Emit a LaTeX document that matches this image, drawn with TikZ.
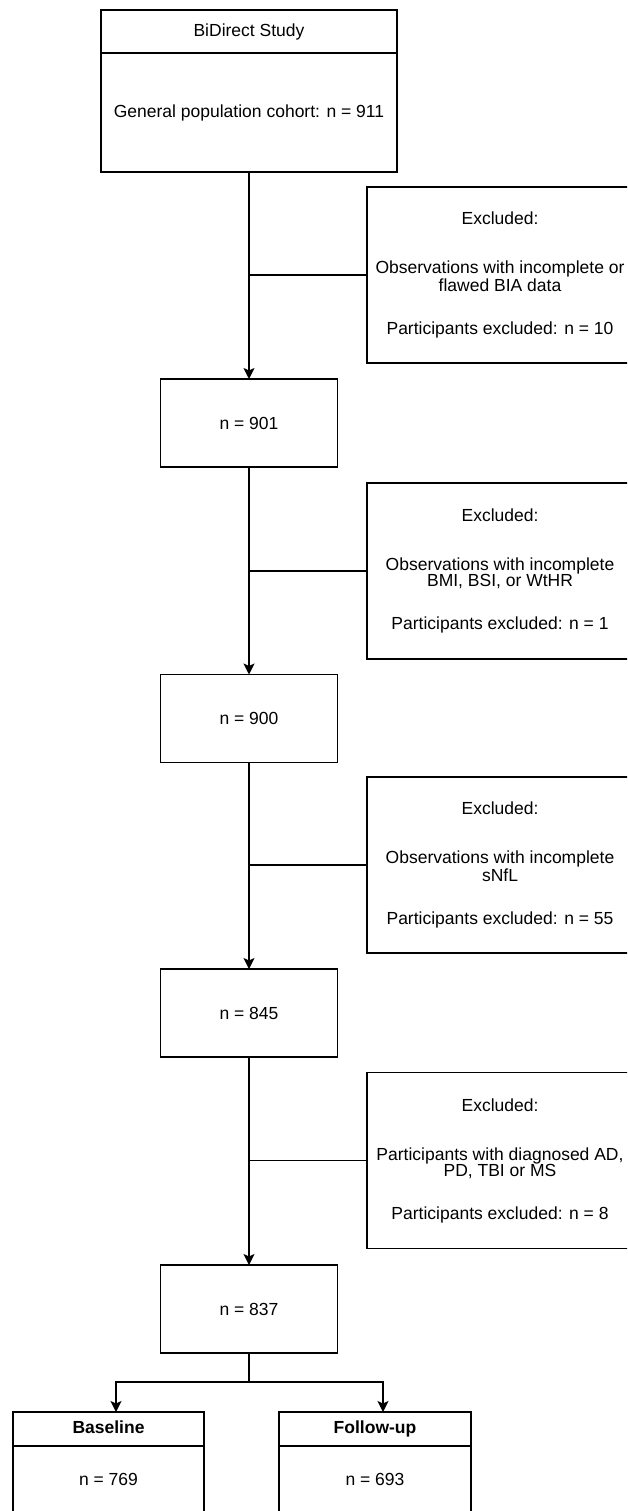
\documentclass[tikz,border=0pt]{standalone}
\usepackage{fontspec}
\setmainfont{Liberation Sans}
\usetikzlibrary{arrows.meta, positioning}

\begin{document}
\begin{tikzpicture}[x=1pt, y=-1pt, line width=1.6pt,
    box/.style={draw, rectangle, align=center, inner sep=0pt, outer sep=0pt,
        font=\fontsize{17.5}{16}\selectfont},
    countbox/.style={box, minimum width=177pt, minimum height=88pt},
    exclbox/.style={box, minimum width=266pt, minimum height=176pt},
    headbox/.style={box, minimum height=34pt, text height=12.6pt, text depth=3.7pt,
        font=\fontsize{17.5}{16}\selectfont\bfseries},
    flow/.style={-{Stealth[length=11pt, width=11pt, inset=2.5pt]}}]
    % Frame of the picture
    \useasboundingbox (0,0) rectangle (627,1511);
    \clip (0,0) rectangle (627,1511);

    % Study header and cohort
    \node[box, minimum width=296pt, minimum height=43pt] (study) at (249,31.5) {BiDirect Study};
    \node[box, minimum width=296pt, minimum height=119pt, below=0pt of study] (cohort) {General population cohort: n = 911};

    % Remaining counts
    \node[countbox] (n901) at (249,423) {n = 901};
    \node[countbox] (n900) at (249,718.5) {n = 900};
    \node[countbox] (n845) at (249,1013) {n = 845};
    \node[countbox] (n837) at (249,1309) {n = 837};

    % Exclusions
    \node[exclbox] (excl1) at (500,275) {Excluded:\\[33pt]Observations with incomplete or\\flawed BIA data\\[27pt]Participants excluded: n = 10};
    \node[exclbox] (excl2) at (500,571) {Excluded:\\[33pt]Observations with incomplete\\BMI, BSI, or WtHR\\[27pt]Participants excluded: n = 1};
    \node[exclbox] (excl3) at (500,865) {Excluded:\\[33pt]Observations with incomplete\\sNfL\\[27pt]Participants excluded: n = 55};
    \node[exclbox] (excl4) at (500,1160.5) {Excluded:\\[33pt]Participants with diagnosed AD,\\PD, TBI or MS\\[27pt]Participants excluded: n = 8};

    % Baseline and follow-up
    \node[headbox, minimum width=191pt] (basehead) at (108.5,1429) {Baseline};
    \node[box, minimum width=191pt, minimum height=66pt, below=0pt of basehead] (base) {n = 769};
    \node[headbox, minimum width=192pt] (followhead) at (375,1429) {Follow-up};
    \node[box, minimum width=192pt, minimum height=66pt, below=0pt of followhead] (follow) {n = 693};

    % Main column
    \draw[flow] (cohort) -- (n901);
    \draw[flow] (n901) -- (n900);
    \draw[flow] (n900) -- (n845);
    \draw[flow] (n845) -- (n837);

    % Side branches
    \draw (cohort.south |- excl1.west) -- (excl1.west);
    \draw (n901.south |- excl2.west) -- (excl2.west);
    \draw (n900.south |- excl3.west) -- (excl3.west);
    \draw (n845.south |- excl4.west) -- (excl4.west);

    % Split into the two waves
    \coordinate (fork) at (249,1382);
    \draw (n837) -- (fork);
    \draw[flow] (fork) -| ([xshift=7.5pt]basehead.north);
    \draw[flow] (fork) -| ([xshift=8pt]followhead.north);
\end{tikzpicture}
\end{document}
